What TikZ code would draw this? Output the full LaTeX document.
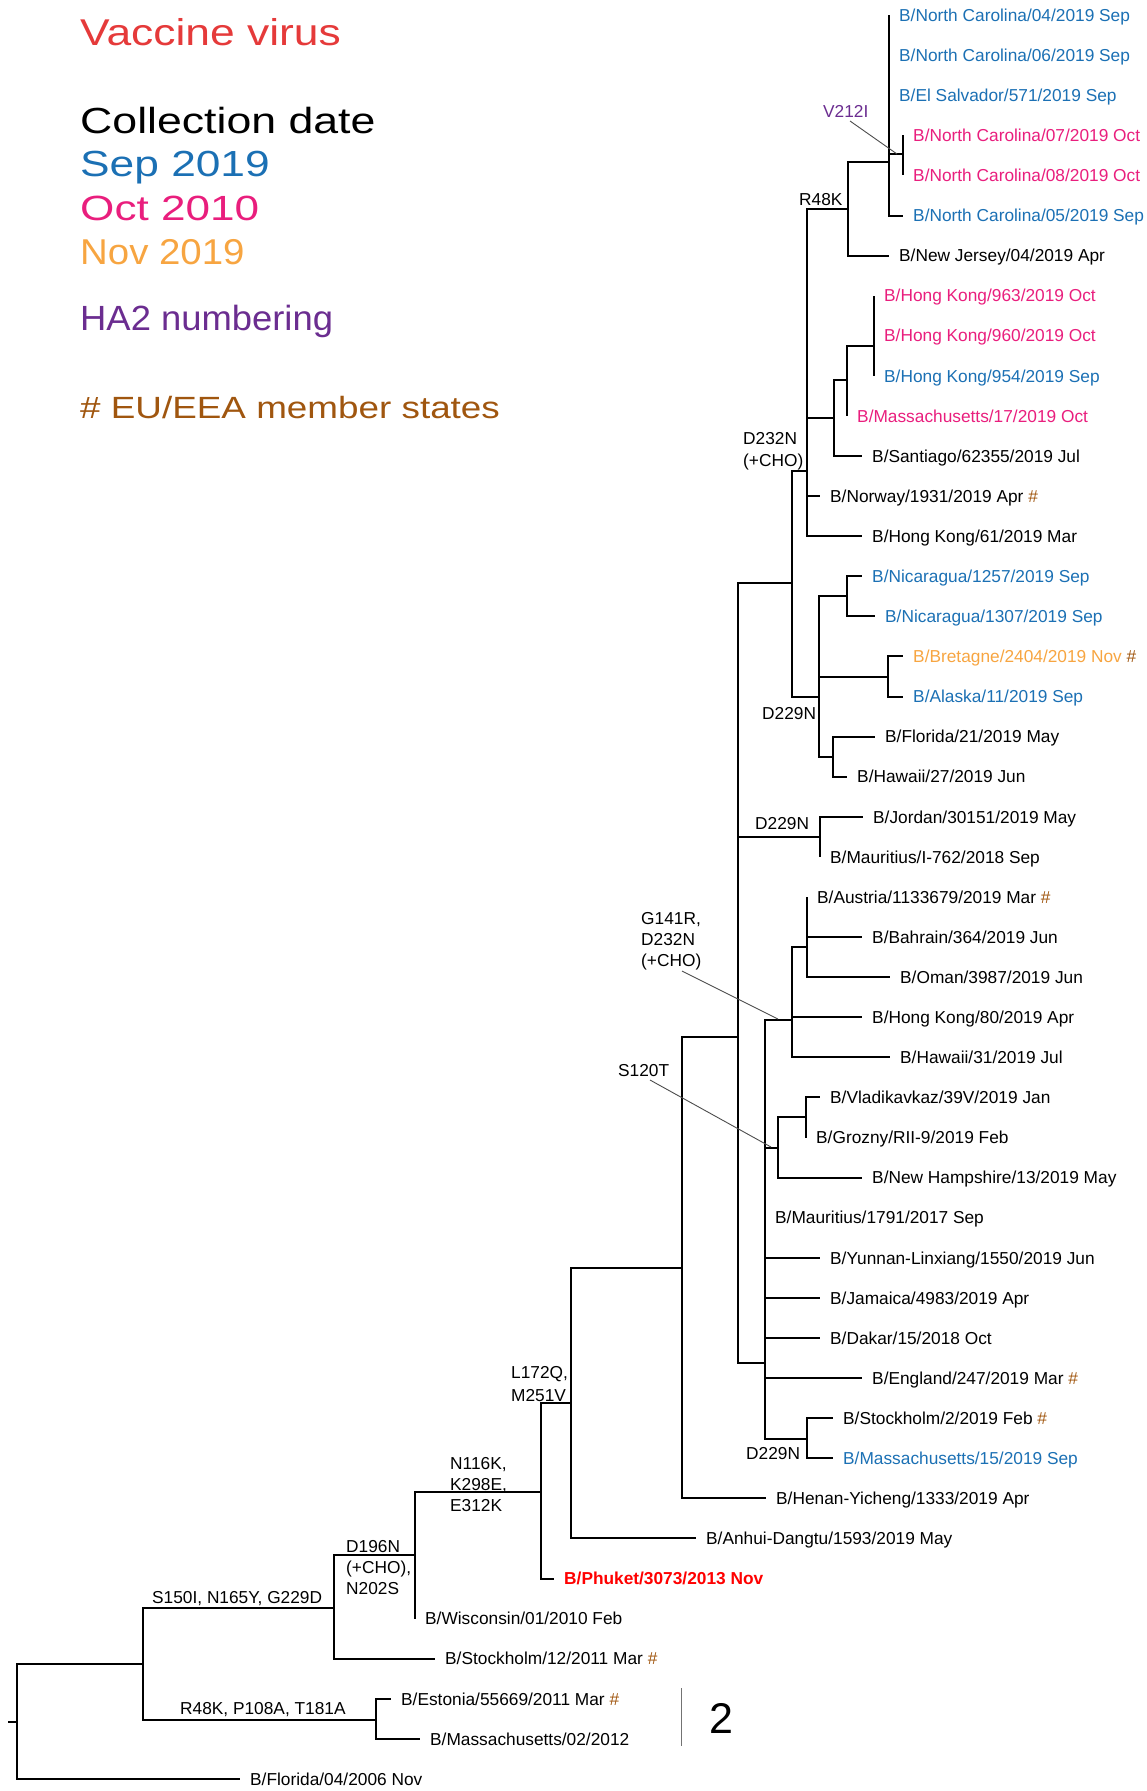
\documentclass[tikz,border=0pt]{standalone}
\usepackage{fontspec}
\setmainfont{Liberation Sans}
\usepackage{graphicx}
\definecolor{sepblue}{HTML}{1B70B4}
\definecolor{octpink}{HTML}{E91E7D}
\definecolor{novorange}{HTML}{F7A541}
\definecolor{vaccred}{HTML}{E53A3A}
\definecolor{phred}{HTML}{FF0000}
\definecolor{hapurple}{HTML}{6B2D90}
\definecolor{eubrown}{HTML}{A0560F}
\newcommand\lfont{\fontsize{17.3}{20}\selectfont}
\newcommand\eu{\textcolor{eubrown}{\#}}
\tikzset{
  br/.style={line width=2pt, line join=miter},
  leader/.style={line width=0.9pt, draw=black!70},
  scalebar/.style={line width=1.4pt, draw=black!55},
  leaftext/.style={anchor=base west, inner sep=0pt, xshift=10pt, yshift=-6.2pt, font=\lfont},
  mut/.style={anchor=base west, inner sep=0pt, font=\lfont},
  legend/.style={anchor=base west, inner sep=0pt}
}
\begin{document}
\begin{tikzpicture}[x=1pt,y=-1pt]
\useasboundingbox (0,0) rectangle (1146,1791);
% legend
\node[legend, font=\fontsize{37.3}{40}\selectfont, text=vaccred] (lgV) at (80,45) {\scalebox{1.19}[1]{Vaccine virus}};
\node[legend, font=\fontsize{36.3}{40}\selectfont, text=black] (lgC) at (80,133) {\scalebox{1.23}[1]{Collection date}};
\node[legend, font=\fontsize{36.3}{40}\selectfont, text=sepblue] (lgS) at (80,176) {\scalebox{1.22}[1]{Sep 2019}};
\node[legend, font=\fontsize{35}{40}\selectfont, text=octpink] (lgO) at (80,220) {\scalebox{1.26}[1]{Oct 2010}};
\node[legend, font=\fontsize{35.9}{40}\selectfont, text=novorange] (lgN) at (80,264) {\scalebox{1.07}[1]{Nov 2019}};
\node[legend, font=\fontsize{35}{40}\selectfont, text=hapurple] (lgH) at (80,330) {\scalebox{1.04}[1]{HA2 numbering}};
\node[legend, font=\fontsize{30.7}{34}\selectfont, text=eubrown] (lgE) at (80,418) {\scalebox{1.2}[1]{\# EU/EEA member states}};

% tree coordinates
\coordinate (rootstub) at (8,1722);
\coordinate (root) at (16.5,1722);
\coordinate (n1) at (143,1664);
\coordinate (Fl04) at (240,1779);
\coordinate (nD) at (334,1608);
\coordinate (nE) at (376,1720);
\coordinate (Es) at (391,1698.8);
\coordinate (Ma02) at (420,1738.9);
\coordinate (nN) at (415,1555);
\coordinate (St12) at (435,1658.7);
\coordinate (nL) at (541,1492);
\coordinate (Wi) at (415,1618.6);
\coordinate (nM) at (571,1403);
\coordinate (Ph) at (554,1578.5);
\coordinate (nS) at (682,1268);
\coordinate (An) at (696,1538.4);
\coordinate (nA) at (737.5,1037);
\coordinate (He) at (766,1498.3);
\coordinate (nDt) at (792,583);
\coordinate (nJ) at (820,837);
\coordinate (nB) at (765,1363);
\coordinate (Jo) at (863,816.8);
\coordinate (MaI) at (820,856.9);
\coordinate (nG) at (792,1020);
\coordinate (nT) at (778,1148);
\coordinate (Mau) at (765,1217.7);
\coordinate (Yu) at (820,1257.8);
\coordinate (Ja) at (820,1297.9);
\coordinate (Da) at (820,1338);
\coordinate (En) at (862,1378.1);
\coordinate (nSt) at (807,1439);
\coordinate (St2) at (833,1418.2);
\coordinate (Ma15) at (833,1458.2);
\coordinate (nAu) at (807,947);
\coordinate (Au) at (807,897);
\coordinate (Ba) at (862,937.1);
\coordinate (Om) at (890,977.2);
\coordinate (HKe) at (862,1017.3);
\coordinate (Hw31) at (890,1057.3);
\coordinate (nVl) at (806,1117);
\coordinate (Vl) at (820,1097.4);
\coordinate (Gr) at (806,1137.5);
\coordinate (NH) at (862,1177.6);
\coordinate (nP) at (807,471);
\coordinate (nQ) at (819,697);
\coordinate (nR) at (848,209);
\coordinate (nK) at (834,418);
\coordinate (No) at (820,496.1);
\coordinate (HKs) at (862,536.2);
\coordinate (nNC) at (889,162);
\coordinate (NJ) at (889,255.5);
\coordinate (NCa) at (889,15);
\coordinate (NCb) at (889,55.1);
\coordinate (ES) at (889,95.2);
\coordinate (nV) at (903,154);
\coordinate (NCe) at (903,215.5);
\coordinate (NCc) at (903,135.3);
\coordinate (NCd) at (903,175.4);
\coordinate (nH) at (847,380);
\coordinate (Sa) at (862,456);
\coordinate (nHK) at (874,346);
\coordinate (Ma17) at (847,415.9);
\coordinate (HKa) at (874,295.6);
\coordinate (HKb) at (874,335.7);
\coordinate (HKc) at (874,375.8);
\coordinate (nNi) at (847,596);
\coordinate (nBr) at (888,677);
\coordinate (nFl) at (833,757);
\coordinate (Nia) at (862,576.3);
\coordinate (Nib) at (875,616.4);
\coordinate (Br) at (903,656.4);
\coordinate (Ak) at (903,696.5);
\coordinate (Fl21) at (875,736.6);
\coordinate (Hw27) at (847,776.7);

% branches
\draw[br] (rootstub) -- (root);
\foreach \p/\c in {root/n1, root/Fl04, n1/nD, n1/nE, nE/Es, nE/Ma02, nD/nN, nD/St12,
  nN/nL, nN/Wi, nL/nM, nL/Ph, nM/nS, nM/An, nS/nA, nS/He, nA/nDt, nA/nJ, nA/nB,
  nJ/Jo, nJ/MaI, nB/nG, nB/nT, nB/Mau, nB/Yu, nB/Ja, nB/Da, nB/En, nB/nSt,
  nSt/St2, nSt/Ma15, nG/nAu, nG/HKe, nG/Hw31, nAu/Au, nAu/Ba, nAu/Om,
  nT/nVl, nT/NH, nVl/Vl, nVl/Gr, nDt/nP, nDt/nQ, nP/nR, nP/nK, nP/No, nP/HKs,
  nR/nNC, nR/NJ, nNC/NCa, nNC/NCb, nNC/ES, nNC/nV, nNC/NCe, nV/NCc, nV/NCd,
  nK/nH, nK/Sa, nH/nHK, nH/Ma17, nHK/HKa, nHK/HKb, nHK/HKc,
  nQ/nNi, nQ/nBr, nQ/nFl, nNi/Nia, nNi/Nib, nBr/Br, nBr/Ak, nFl/Fl21, nFl/Hw27}
  \draw[br] (\p) |- (\c);

% leaf labels
\node[leaftext, text=sepblue] (tNCa) at (NCa) {B/North Carolina/04/2019 Sep};
\node[leaftext, text=sepblue] (tNCb) at (NCb) {B/North Carolina/06/2019 Sep};
\node[leaftext, text=sepblue] (tES) at (ES) {B/El Salvador/571/2019 Sep};
\node[leaftext, text=octpink] (tNCc) at (NCc) {B/North Carolina/07/2019 Oct};
\node[leaftext, text=octpink] (tNCd) at (NCd) {B/North Carolina/08/2019 Oct};
\node[leaftext, text=sepblue] (tNCe) at (NCe) {B/North Carolina/05/2019 Sep};
\node[leaftext] (tNJ) at (NJ) {B/New Jersey/04/2019 Apr};
\node[leaftext, text=octpink] (tHKa) at (HKa) {B/Hong Kong/963/2019 Oct};
\node[leaftext, text=octpink] (tHKb) at (HKb) {B/Hong Kong/960/2019 Oct};
\node[leaftext, text=sepblue] (tHKc) at (HKc) {B/Hong Kong/954/2019 Sep};
\node[leaftext, text=octpink] (tMa17) at (Ma17) {B/Massachusetts/17/2019 Oct};
\node[leaftext] (tSa) at (Sa) {B/Santiago/62355/2019 Jul};
\node[leaftext] (tNo) at (No) {B/Norway/1931/2019 Apr \eu};
\node[leaftext] (tHKs) at (HKs) {B/Hong Kong/61/2019 Mar};
\node[leaftext, text=sepblue] (tNia) at (Nia) {B/Nicaragua/1257/2019 Sep};
\node[leaftext, text=sepblue] (tNib) at (Nib) {B/Nicaragua/1307/2019 Sep};
\node[leaftext, text=novorange] (tBr) at (Br) {B/Bretagne/2404/2019 Nov \eu};
\node[leaftext, text=sepblue] (tAk) at (Ak) {B/Alaska/11/2019 Sep};
\node[leaftext] (tFl21) at (Fl21) {B/Florida/21/2019 May};
\node[leaftext] (tHw27) at (Hw27) {B/Hawaii/27/2019 Jun};
\node[leaftext] (tJo) at (Jo) {B/Jordan/30151/2019 May};
\node[leaftext] (tMaI) at (MaI) {B/Mauritius/I-762/2018 Sep};
\node[leaftext] (tAu) at (Au) {B/Austria/1133679/2019 Mar \eu};
\node[leaftext] (tBa) at (Ba) {B/Bahrain/364/2019 Jun};
\node[leaftext] (tOm) at (Om) {B/Oman/3987/2019 Jun};
\node[leaftext] (tHKe) at (HKe) {B/Hong Kong/80/2019 Apr};
\node[leaftext] (tHw31) at (Hw31) {B/Hawaii/31/2019 Jul};
\node[leaftext] (tVl) at (Vl) {B/Vladikavkaz/39V/2019 Jan};
\node[leaftext] (tGr) at (Gr) {B/Grozny/RII-9/2019 Feb};
\node[leaftext] (tNH) at (NH) {B/New Hampshire/13/2019 May};
\node[leaftext] (tMau) at (Mau) {B/Mauritius/1791/2017 Sep};
\node[leaftext] (tYu) at (Yu) {B/Yunnan-Linxiang/1550/2019 Jun};
\node[leaftext] (tJa) at (Ja) {B/Jamaica/4983/2019 Apr};
\node[leaftext] (tDa) at (Da) {B/Dakar/15/2018 Oct};
\node[leaftext] (tEn) at (En) {B/England/247/2019 Mar \eu};
\node[leaftext] (tSt2) at (St2) {B/Stockholm/2/2019 Feb \eu};
\node[leaftext, text=sepblue] (tMa15) at (Ma15) {B/Massachusetts/15/2019 Sep};
\node[leaftext] (tHe) at (He) {B/Henan-Yicheng/1333/2019 Apr};
\node[leaftext] (tAn) at (An) {B/Anhui-Dangtu/1593/2019 May};
\node[leaftext, text=phred, font=\lfont\bfseries] (tPh) at (Ph) {B/Phuket/3073/2013 Nov};
\node[leaftext] (tWi) at (Wi) {B/Wisconsin/01/2010 Feb};
\node[leaftext] (tSt12) at (St12) {B/Stockholm/12/2011 Mar \eu};
\node[leaftext] (tEs) at (Es) {B/Estonia/55669/2011 Mar \eu};
\node[leaftext] (tMa02) at (Ma02) {B/Massachusetts/02/2012};
\node[leaftext] (tFl04) at (Fl04) {B/Florida/04/2006 Nov};

% mutation labels
\node[mut, text=hapurple] (mV212) at (823,117) {V212I};
\node[mut] (mR48) at (799,205) {R48K};
\node[mut] (mD232a) at (743,444) {D232N};
\node[mut] (mD232b) at (743,466) {(+CHO)};
\node[mut] (mD229a) at (762,719) {D229N};
\node[mut] (mD229b) at (755,829) {D229N};
\node[mut] (mG141a) at (641,924) {G141R,};
\node[mut] (mG141b) at (641,945) {D232N};
\node[mut] (mG141c) at (641,966) {(+CHO)};
\node[mut] (mS120) at (618,1076) {S120T};
\node[mut] (mD229c) at (746,1459) {D229N};
\node[mut] (mL172a) at (511,1378) {L172Q,};
\node[mut] (mL172b) at (511,1401) {M251V};
\node[mut] (mN116a) at (450,1469) {N116K,};
\node[mut] (mN116b) at (450,1490) {K298E,};
\node[mut] (mN116c) at (450,1511) {E312K};
\node[mut] (mD196a) at (346,1552) {D196N};
\node[mut] (mD196b) at (346,1573) {(+CHO),};
\node[mut] (mD196c) at (346,1594) {N202S};
\node[mut] (mS150) at (152,1603) {S150I, N165Y, G229D};
\node[mut] (mR48b) at (180,1714) {R48K, P108A, T181A};

% leader lines
\coordinate (lV1) at (850,121); \coordinate (lV2) at (897,154);
\coordinate (lG1) at (682,971); \coordinate (lG2) at (778,1019);
\coordinate (lS1) at (650,1080); \coordinate (lS2) at (771,1147);
\draw[leader] (lV1) -- (lV2);
\draw[leader] (lG1) -- (lG2);
\draw[leader] (lS1) -- (lS2);

% scale bar
\coordinate (sb1) at (681.5,1688); \coordinate (sb2) at (681.5,1746);
\draw[scalebar] (sb1) -- (sb2);
\node[anchor=base west, inner sep=0pt, font=\fontsize{43}{46}\selectfont] (sbl) at (709,1733) {2};
\end{tikzpicture}
\end{document}
